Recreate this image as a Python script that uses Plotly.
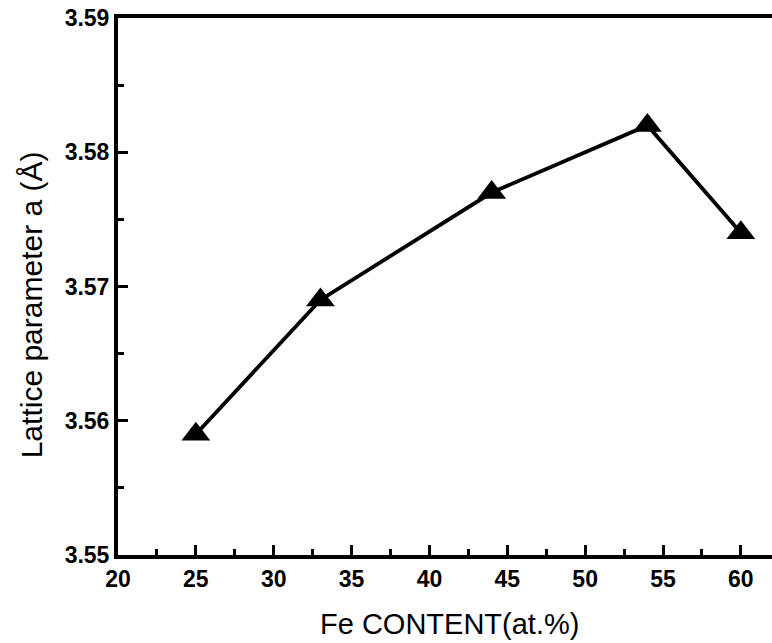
import plotly.graph_objects as go

# Lattice parameter of the alloy versus Fe content
fe_content = [25, 33, 44, 54, 60]              # at.%
lattice_a = [3.559, 3.569, 3.577, 3.582, 3.574]  # Å

x_ticks = [20, 25, 30, 35, 40, 45, 50, 55, 60]
y_ticks = [3.55, 3.56, 3.57, 3.58, 3.59]
x_minor_step = 2.5
y_minor_step = 0.005

x_range = [20, 62]
y_range = [3.55, 3.59]

x_title = "Fe CONTENT(at.%)"
y_title = "Lattice parameter a (Å)"

FONT = "Arial, Liberation Sans, Helvetica, sans-serif"

fig = go.Figure()

# data line with triangle symbols
fig.add_trace(go.Scatter(
    x=fe_content, y=lattice_a, mode="lines+markers",
    line=dict(color="black", width=3.8),
    marker=dict(symbol="triangle-up", size=25, color="black"),
    showlegend=False,
))

tick_font = dict(family=FONT, size=23, color="black")
minor_style = dict(ticks="inside", ticklen=6, tickwidth=3, tickcolor="black")

fig.update_layout(
    xaxis=dict(
        range=x_range, tickmode="array", tickvals=x_ticks,
        ticktext=[f"<b>{v}</b>" for v in x_ticks],
        ticks="inside", ticklen=10, tickwidth=3, tickcolor="black",
        minor=dict(tick0=x_ticks[0], dtick=x_minor_step, **minor_style),
        showgrid=False,
        showline=True, linecolor="black", linewidth=4, mirror=True,
        tickfont=tick_font,
    ),
    yaxis=dict(
        range=y_range, tickmode="array", tickvals=y_ticks,
        ticktext=[f"<b>{v:.2f}</b>" for v in y_ticks],
        ticks="inside", ticklen=10, tickwidth=3, tickcolor="black",
        minor=dict(tick0=y_ticks[0], dtick=y_minor_step, **minor_style),
        showgrid=False,
        showline=True, linecolor="black", linewidth=4,
        tickfont=tick_font,
    ),
)

fig.add_annotation(
    text=x_title, xref="paper", yref="paper", x=0.507, y=-0.128,
    xanchor="center", yanchor="middle", showarrow=False,
    font=dict(family=FONT, size=29, color="black"),
)
fig.add_annotation(
    text=y_title, xref="paper", yref="paper", x=-0.133, y=0.465,
    xanchor="center", yanchor="middle", textangle=-90, showarrow=False,
    font=dict(family=FONT, size=30, color="black"),
)

fig.update_layout(
    width=772, height=643,
    margin=dict(l=118, r=0, t=18, b=88),
    plot_bgcolor="white",
)

fig.write_html("out.html")
